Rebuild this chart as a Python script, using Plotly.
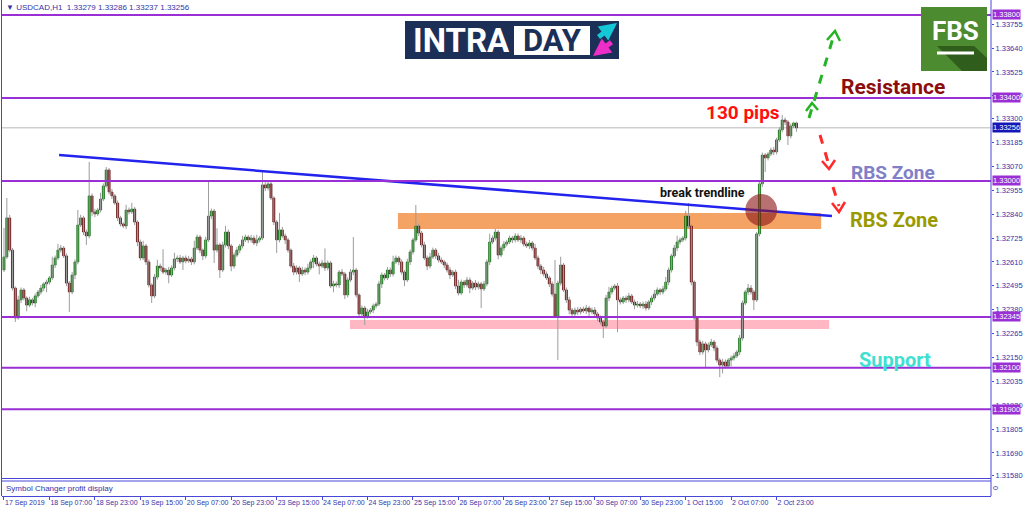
import plotly.graph_objects as go

W, H = 1024, 511

# USDCAD H1, prices in 1e-5 units (32634 -> 1.32634); open of each bar = previous close
open_first = 32571
closes = [
    32634, 32822, 32667, 32484, 32340, 32427, 32475, 32436, 32402, 32427, 32412, 32446, 32465, 32484, 32504, 32513, 32533, 32595, 32629, 32667,
    32677, 32639, 32508, 32465, 32547, 32610, 32788, 32822, 32754, 32735, 32928, 32851, 32841, 32860, 32913, 32976, 33053, 32947, 32928, 32894,
    32822, 32793, 32783, 32860, 32851, 32865, 32802, 32706, 32629, 32687, 32610, 32499, 32446, 32537, 32590, 32581, 32561, 32571, 32547, 32581,
    32624, 32629, 32610, 32629, 32615, 32624, 32610, 32677, 32730, 32667, 32639, 32716, 32831, 32855, 32667, 32692, 32571, 32692, 32754, 32687,
    32590, 32643, 32667, 32687, 32716, 32730, 32716, 32725, 32701, 32716, 32725, 32981, 32966, 32986, 32918, 32802, 32716, 32764, 32735, 32716,
    32667, 32590, 32561, 32581, 32552, 32571, 32561, 32581, 32610, 32629, 32600, 32590, 32605, 32581, 32605, 32494, 32504, 32499, 32561, 32552,
    32451, 32523, 32561, 32571, 32451, 32359, 32388, 32349, 32369, 32378, 32398, 32407, 32504, 32547, 32533, 32571, 32552, 32610, 32629, 32610,
    32561, 32523, 32610, 32658, 32716, 32783, 32749, 32692, 32629, 32590, 32634, 32667, 32639, 32619, 32610, 32595, 32571, 32547, 32561, 32494,
    32460, 32513, 32499, 32523, 32484, 32508, 32489, 32504, 32480, 32504, 32610, 32706, 32725, 32754, 32643, 32677, 32696, 32706, 32725, 32716,
    32735, 32716, 32725, 32696, 32687, 32701, 32677, 32629, 32590, 32571, 32552, 32533, 32504, 32455, 32349, 32508, 32595, 32475, 32427, 32378,
    32359, 32378, 32369, 32383, 32374, 32388, 32369, 32378, 32359, 32340, 32321, 32301, 32436, 32465, 32484, 32494, 32427, 32417, 32436, 32427,
    32446, 32417, 32402, 32407, 32398, 32407, 32388, 32417, 32436, 32455, 32475, 32465, 32480, 32513, 32571, 32639, 32677, 32706, 32716, 32725,
    32831, 32783, 32513, 32340, 32224, 32176, 32215, 32186, 32210, 32224, 32195, 32137, 32113, 32128, 32108, 32137, 32147, 32157, 32176, 32243,
    32412, 32465, 32484, 32465, 32427, 32745, 32986, 33125, 33111, 33130, 33149, 33140, 33198, 33246, 33294, 33284, 33217, 33265, 33279, 33256,
]
wick_up = [
    140, 96, 15, 10, 8, 20, 12, 10, 8, 15, 10, 12, 10, 15, 8, 12, 10, 40, 12, 30,
    15, 10, 12, 10, 15, 12, 72, 15, 10, 12, 164, 12, 15, 10, 30, 12, 14, 10, 15, 10,
    12, 10, 8, 25, 12, 30, 10, 8, 12, 25, 10, 12, 8, 15, 30, 12, 90, 10, 15, 12,
    30, 12, 15, 10, 12, 15, 10, 35, 12, 10, 8, 15, 164, 12, 10, 80, 10, 15, 30, 12,
    10, 12, 15, 10, 20, 12, 10, 15, 12, 25, 10, 62, 15, 12, 10, 8, 10, 82, 15, 12,
    10, 8, 15, 12, 10, 15, 12, 20, 12, 15, 10, 12, 15, 70, 12, 10, 15, 12, 10, 15,
    10, 12, 15, 159, 10, 8, 12, 10, 15, 10, 12, 10, 15, 12, 10, 15, 12, 30, 12, 10,
    12, 10, 15, 12, 10, 101, 12, 10, 15, 12, 20, 12, 10, 15, 12, 10, 12, 15, 10, 12,
    30, 12, 10, 15, 12, 10, 15, 12, 10, 15, 12, 40, 12, 15, 10, 12, 15, 10, 12, 10,
    14, 12, 15, 10, 12, 15, 10, 20, 12, 10, 15, 12, 10, 12, 164, 12, 40, 10, 12, 15,
    10, 12, 15, 10, 12, 15, 10, 12, 15, 10, 12, 10, 15, 25, 12, 10, 15, 12, 10, 12,
    15, 10, 12, 15, 10, 12, 15, 10, 12, 20, 12, 10, 15, 25, 12, 10, 15, 30, 12, 10,
    25, 63, 10, 8, 10, 12, 15, 10, 12, 15, 10, 12, 10, 15, 12, 10, 12, 15, 10, 15,
    12, 10, 20, 15, 10, 10, 10, 12, 10, 10, 12, 15, 10, 12, 24, 12, 10, 12, 7, 7,
]
wick_dn = [
    10, 10, 10, 12, 19, 8, 15, 12, 30, 10, 12, 20, 10, 12, 15, 40, 12, 10, 15, 10,
    12, 10, 15, 96, 10, 20, 12, 10, 15, 43, 12, 20, 15, 10, 12, 10, 8, 12, 15, 10,
    15, 12, 10, 15, 12, 10, 15, 20, 12, 10, 15, 12, 34, 10, 12, 15, 10, 12, 40, 10,
    12, 15, 10, 39, 12, 10, 15, 12, 10, 15, 20, 12, 10, 15, 62, 12, 38, 10, 12, 15,
    25, 12, 10, 15, 12, 10, 15, 12, 10, 15, 12, 10, 15, 12, 10, 15, 63, 12, 10, 20,
    12, 10, 15, 12, 39, 10, 15, 12, 10, 30, 12, 40, 10, 15, 12, 10, 30, 12, 15, 10,
    20, 12, 10, 15, 12, 10, 15, 43, 12, 10, 15, 12, 10, 20, 12, 10, 15, 12, 10, 15,
    12, 30, 10, 15, 12, 10, 15, 12, 10, 20, 12, 10, 15, 12, 10, 15, 12, 20, 10, 15,
    12, 10, 15, 12, 25, 10, 15, 12, 92, 10, 12, 15, 10, 12, 20, 10, 15, 12, 10, 15,
    12, 10, 15, 12, 10, 15, 12, 10, 15, 20, 12, 10, 15, 12, 10, 212, 12, 10, 15, 20,
    12, 10, 15, 12, 10, 15, 25, 12, 10, 15, 12, 58, 10, 15, 12, 10, 155, 12, 10, 15,
    12, 10, 20, 12, 10, 15, 12, 10, 15, 12, 10, 15, 12, 10, 15, 12, 10, 15, 12, 10,
    12, 10, 15, 12, 20, 15, 12, 87, 12, 10, 15, 12, 58, 40, 12, 10, 30, 12, 10, 15,
    12, 10, 15, 12, 49, 10, 12, 15, 68, 12, 10, 15, 12, 10, 12, 15, 44, 12, 10, 19,
]

time_labels = ["17 Sep 2019", "18 Sep 07:00", "18 Sep 23:00", "19 Sep 15:00", "20 Sep 07:00",
               "20 Sep 23:00", "23 Sep 15:00", "24 Sep 07:00", "24 Sep 23:00", "25 Sep 15:00",
               "26 Sep 07:00", "26 Sep 23:00", "27 Sep 15:00", "30 Sep 07:00", "30 Sep 23:00",
               "1 Oct 15:00", "2 Oct 07:00", "2 Oct 23:00"]
bars_per_label = 16

price_ticks = [1.33755, 1.33640, 1.33525, 1.33410, 1.33300, 1.33185, 1.33070, 1.32955, 1.32840, 1.32725,
               1.32610, 1.32495, 1.32380, 1.32265, 1.32150, 1.32035, 1.31920, 1.31805, 1.31690, 1.31580]
level_prices = [1.33800, 1.33400, 1.33000, 1.32345, 1.32100, 1.31900]
last_price = 1.33256
header_text = "▼ USDCAD,H1  1.33279 1.33286 1.33237 1.33256"

# drawn objects (bar index / price)
trend_x = [19.4, 291.5]
trend_y = [1.33125, 1.32831]
orange_zone = dict(x0=138.7, x1=287.7, y0=1.32769, y1=1.32846)
pink_zone = dict(x0=121.8, x1=290.5, y0=1.32287, y1=1.32330)
break_circle = dict(x0=261.0, x1=272.2, y0=1.32783, y1=1.32937)

BLUE = "#4848d8"
PURPLE = "#9a2fd6"
FONT = "Liberation Sans"


def px(x):
    return x / W


def py(y):
    return 1 - y / H


def price(v):
    return 1 + v / 100000


opens = [open_first] + closes[:-1]
idx = list(range(len(closes)))
highs = [price(max(o, c) + u) for o, c, u in zip(opens, closes, wick_up)]
lows = [price(min(o, c) - d) for o, c, d in zip(opens, closes, wick_dn)]

wx, wy = [], []
for i, hi, lo in zip(idx, highs, lows):
    wx += [i, i, None]
    wy += [lo, hi, None]

bases = [price(min(o, c)) for o, c in zip(opens, closes)]
heights = [max(abs(c - o), 2) / 100000 for o, c in zip(opens, closes)]
body_col = ["#009a00" if c >= o else "#9a0000" for o, c in zip(opens, closes)]
edge_col = ["#004d00" if c >= o else "#3d0000" for o, c in zip(opens, closes)]

fig = go.Figure()
fig.add_trace(go.Scatter(x=wx, y=wy, mode="lines", line=dict(color="#9c9c9c", width=1),
                         hoverinfo="skip"))
fig.add_trace(go.Bar(x=idx, y=heights, base=bases, width=0.75,
                     marker=dict(color=body_col, line=dict(color=edge_col, width=0.6))))
fig.add_trace(go.Scatter(x=trend_x, y=trend_y, mode="lines",
                         line=dict(color="#2323ee", width=2.5), hoverinfo="skip"))

shapes = []
# zones under the candles
shapes.append(dict(type="rect", xref="x", yref="y", layer="below", line_width=0,
                   fillcolor="rgba(242,150,80,0.88)", **orange_zone))
shapes.append(dict(type="rect", xref="x", yref="y", layer="below", line_width=0,
                   fillcolor="rgba(255,180,192,0.95)", **pink_zone))
# current price line
shapes.append(dict(type="line", xref="paper", yref="y", x0=px(2), x1=px(991), y0=last_price, y1=last_price,
                   layer="below", line=dict(color="#b8b8b8", width=1)))
# horizontal levels
for lv in level_prices:
    shapes.append(dict(type="line", xref="paper", yref="y", x0=px(2), x1=px(991), y0=lv, y1=lv,
                       line=dict(color=PURPLE, width=2)))
shapes.append(dict(type="circle", xref="x", yref="y", line_width=0,
                   fillcolor="rgba(140,25,25,0.62)", **break_circle))

# window frame
frame = dict(color=BLUE, width=1)
shapes += [
    dict(type="line", xref="paper", yref="paper", x0=px(1.5), x1=px(1.5), y0=py(0), y1=py(496), line=frame),
    dict(type="line", xref="paper", yref="paper", x0=px(991), x1=px(991), y0=py(0), y1=py(496), line=frame),
    dict(type="line", xref="paper", yref="paper", x0=px(1.5), x1=px(991), y0=py(478.5), y1=py(478.5), line=frame),
    dict(type="line", xref="paper", yref="paper", x0=px(1.5), x1=px(991), y0=py(481), y1=py(481), line=frame),
]

# INTRADAY logo
shapes += [
    dict(type="rect", xref="paper", yref="paper", x0=px(405), x1=px(619), y0=py(59), y1=py(21),
         fillcolor="#1b2f57", line_width=0),
    dict(type="rect", xref="paper", yref="paper", x0=px(514), x1=px(590), y0=py(55), y1=py(26),
         fillcolor="#ffffff", line_width=0),
]
# FBS logo
shapes += [
    dict(type="rect", xref="paper", yref="paper", x0=px(921), x1=px(987), y0=py(71), y1=py(7),
         fillcolor="#4c8b30", line_width=0),
    dict(type="path", xref="paper", yref="paper",
         path=f"M {px(937)} {py(46)} L {px(974)} {py(46)} L {px(987)} {py(58)} L {px(987)} {py(71)} "
              f"L {px(962)} {py(71)} Z",
         fillcolor="#2f5d1c", line_width=0),
    dict(type="line", xref="paper", yref="paper", x0=px(937), x1=px(974), y0=py(53), y1=py(53),
         line=dict(color="#ffffff", width=3)),
]

# dashed arrows
green = dict(color="#25b425", width=3, dash="dash")
red = dict(color="#ff2a2a", width=3, dash="dash")
shapes += [
    dict(type="line", xref="paper", yref="paper", x0=px(809), y0=py(118), x1=px(833), y1=py(38), line=green),
    dict(type="path", xref="paper", yref="paper", line=dict(color="#25b425", width=2.5),
         path=f"M {px(806)} {py(111)} L {px(812)} {py(103)} L {px(818)} {py(110)}"),
    dict(type="path", xref="paper", yref="paper", line=dict(color="#25b425", width=2.5),
         path=f"M {px(827)} {py(40)} L {px(835)} {py(31)} L {px(840)} {py(41)}"),
    dict(type="line", xref="paper", yref="paper", x0=px(820), y0=py(135), x1=px(828), y1=py(162), line=red),
    dict(type="path", xref="paper", yref="paper", line=dict(color="#ff2a2a", width=2.5),
         path=f"M {px(822)} {py(161)} L {px(829)} {py(169)} L {px(835)} {py(160)}"),
    dict(type="line", xref="paper", yref="paper", x0=px(833), y0=py(187), x1=px(839), y1=py(206), line=red),
    dict(type="path", xref="paper", yref="paper", line=dict(color="#ff2a2a", width=2.5),
         path=f"M {px(832)} {py(203)} L {px(839)} {py(212)} L {px(845)} {py(202)}"),
]


def label(text, x, y, size, color, family="Roboto", xanchor="center", **kw):
    return dict(text=text, x=px(x), y=py(y), xref="paper", yref="paper", showarrow=False,
                xanchor=xanchor, yanchor="middle",
                font=dict(family=family, size=size, color=color), **kw)


annotations = [
    label(header_text, 4, 7, 8, "#3434a8", family=FONT, xanchor="left"),
    label("Symbol Changer profit display", 4, 488, 8, "#3434a8", family=FONT, xanchor="left"),
    label("0", 996, 488, 7, "#3434a8", family=FONT, textangle=90),
    label("<b>INTRA</b>", 461, 40, 33, "#ffffff"),
    label("<b>DAY</b>", 552, 40, 31, "#1b2f57"),
    label("<b>FBS</b>", 955, 31, 26, "#ffffff"),
    label("<b>130 pips</b>", 743, 113, 19, "#ff1010"),
    label("<b>Resistance</b>", 893, 87, 21, "#8c0d0d"),
    label("<b>RBS Zone</b>", 893, 172, 19, "#8080c8"),
    label("<b>RBS Zone</b>", 894, 220, 20, "#9a9a00"),
    label("<b>Support</b>", 895, 360, 20, "#40e0d0"),
    label("<b>break trendline</b>", 702, 193, 12.5, "#111111"),
    # logo arrows
    dict(text="", x=px(617), y=py(23), xref="paper", yref="paper", showarrow=True, ax=-20, ay=15,
         arrowcolor="#14c8d8", arrowwidth=5, arrowhead=2, arrowsize=0.7),
    dict(text="", x=px(593), y=py(56), xref="paper", yref="paper", showarrow=True, ax=20, ay=-15,
         arrowcolor="#ee2ec8", arrowwidth=5, arrowhead=2, arrowsize=0.7),
]
for lv in level_prices:
    annotations.append(dict(text=f"{lv:.5f}", x=px(992), y=lv, xref="paper", yref="y", xanchor="left",
                            yanchor="middle", showarrow=False, bgcolor=PURPLE, borderpad=0,
                            font=dict(family=FONT, size=7.5, color="#ffffff")))
annotations.append(dict(text=f"{last_price:.5f}", x=px(992), y=last_price, xref="paper", yref="y",
                        xanchor="left", yanchor="middle", showarrow=False, bgcolor="#1616b8", borderpad=0,
                        font=dict(family=FONT, size=7.5, color="#ffffff")))

tick_idx = [k * bars_per_label for k in range(len(time_labels))]

fig.update_layout(
    width=W, height=H,
    margin=dict(l=0, r=0, t=0, b=0),
    paper_bgcolor="#ffffff", plot_bgcolor="#ffffff",
    showlegend=False, hovermode=False, barmode="overlay",
    shapes=shapes, annotations=annotations,
    xaxis=dict(domain=[px(2), px(991)], range=[-0.7, 347.5], anchor="free", position=py(496),
               showgrid=False, zeroline=False, showline=True, linecolor=BLUE, linewidth=1,
               tickvals=tick_idx, ticktext=time_labels, ticks="outside", ticklen=3, tickcolor=BLUE,
               ticklabelposition="outside right", tickangle=0, automargin=False,
               tickfont=dict(family=FONT, size=7, color="#3434a8")),
    yaxis=dict(domain=[py(478), py(1)], range=[1.31569, 1.33867], side="right", anchor="x",
               showgrid=False, zeroline=False, showline=False,
               tickvals=price_ticks, ticktext=[f"{t:.5f}" for t in price_ticks],
               ticks="outside", ticklen=2, tickcolor=BLUE, automargin=False,
               tickfont=dict(family=FONT, size=7.5, color="#3434a8")),
)

# the page body has a default 8px margin; drop it so the 1024x511 figure fills the window
fig.write_html("out.html", config={"displayModeBar": False},
               post_script="document.body.style.margin='0';document.body.style.overflow='hidden';")
